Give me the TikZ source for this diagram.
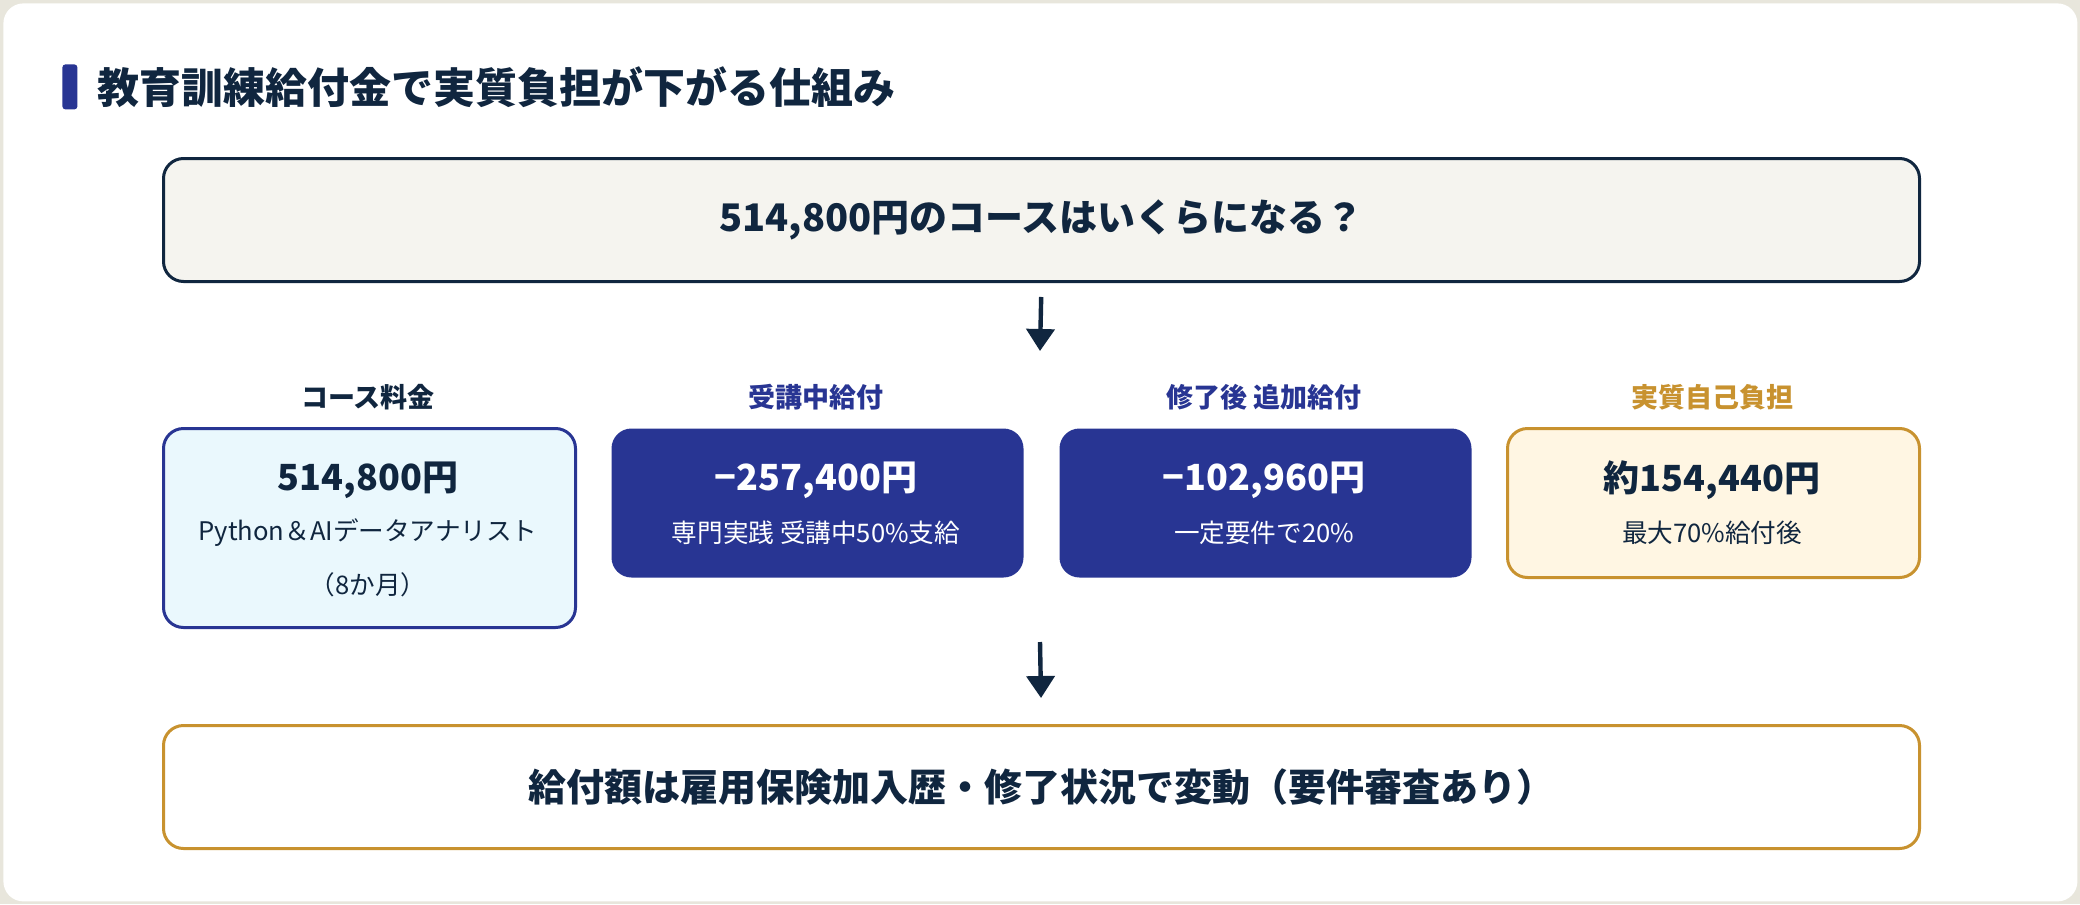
\documentclass[tikz,border=0pt]{standalone}
\usepackage{fontspec}
\setmainfont{Noto Sans CJK JP}
\usepackage{xcolor}
\usepackage{tikz}
\usetikzlibrary{arrows.meta,positioning,calc}
\definecolor{ink}{HTML}{10263F}
\definecolor{navy}{HTML}{283593}
\definecolor{skypale}{HTML}{EAF8FD}
\definecolor{gold}{HTML}{C8922F}
\definecolor{goldpale}{HTML}{FFF6E3}
\definecolor{paper}{HTML}{F5F4EF}
\definecolor{frame}{HTML}{E8E6DC}
\tikzset{
  >={Triangle[length=11pt,width=14pt]},
  card/.style={rounded corners=10pt, line width=1.5pt},
  wide/.style={card, minimum width=878pt, minimum height=61.5pt, anchor=north west,
    text=ink, font=\bfseries\fontsize{19pt}{23pt}\selectfont},
  tile/.style={card, minimum width=206pt, minimum height=74.5pt, anchor=north west},
  head/.style={font=\bfseries\fontsize{13.5pt}{16pt}\selectfont},
  amount/.style={font=\bfseries\fontsize{18pt}{22pt}\selectfont},
  note/.style={font=\fontsize{12.8pt}{15pt}\selectfont},
  flow/.style={->, line width=2.2pt, draw=ink, fill=ink}
}
\begin{document}
\begin{tikzpicture}[x=0.5pt,y=-0.5pt]
  \useasboundingbox (0,0) rectangle (2080,904);
  \fill[frame] (0,0) rectangle (2080,904);
  \node[fill=white,rounded corners=10pt,minimum width=1037pt,minimum height=449pt,
    anchor=north west] (sheet) at (3,3) {};

  \node[fill=navy,rounded corners=1.5pt,minimum width=7.5pt,minimum height=22.5pt,
    inner sep=0pt,anchor=north west] (bar) at (62,64) {};
  \node[anchor=west,inner sep=0pt,text=ink,font=\bfseries\fontsize{21pt}{25pt}\selectfont]
    (title) at (97,87) {教育訓練給付金で実質負担が下がる仕組み};

  \node[wide,fill=paper,draw=ink] (ask) at (162,157) {514,800円のコースはいくらになる？};
  \coordinate (drop1) at (1040,351);
  \draw[flow,shorten <=7pt] (ask.south) -- (drop1);

  \node[head,text=ink] (h1) at (368,397) {コース料金};
  \node[head,text=navy] (h2) at (816,397) {受講中給付};
  \node[head,text=navy] (h3) at (1264,397) {修了後 追加給付};
  \node[head,text=gold] (h4) at (1712,397) {実質自己負担};

  \node[tile,fill=skypale,draw=navy,minimum height=99.5pt] (fee) at (162,427) {};
  \node[tile,fill=navy] (during) at (610,427) {};
  \node[tile,fill=navy] (after) at (1058,427) {};
  \node[tile,fill=goldpale,draw=gold] (net) at (1506,427) {};

  \node[amount,text=ink] (fee1) at (368,480) {514,800円};
  \node[note,text=ink] (fee2) at (368,533) {Python＆AIデータアナリスト};
  \node[note,text=ink] (fee3) at (368,585) {（8か月）};
  \node[amount,text=white] (during1) at (816,480) {−257,400円};
  \node[note,text=white] (during2) at (816,533) {専門実践 受講中50\%支給};
  \node[amount,text=white] (after1) at (1264,480) {−102,960円};
  \node[note,text=white] (after2) at (1264,533) {一定要件で20\%};
  \node[amount,text=ink] (net1) at (1712,480) {約154,440円};
  \node[note,text=ink] (net2) at (1712,533) {最大70\%給付後};

  \coordinate (drop2) at (1040,642);
  \node[wide,fill=white,draw=gold] (rule) at (162,724)
    {給付額は雇用保険加入歴・修了状況で変動（要件審査あり）};
  \draw[flow,shorten >=13pt] (drop2) -- (rule.north);
\end{tikzpicture}
\end{document}
